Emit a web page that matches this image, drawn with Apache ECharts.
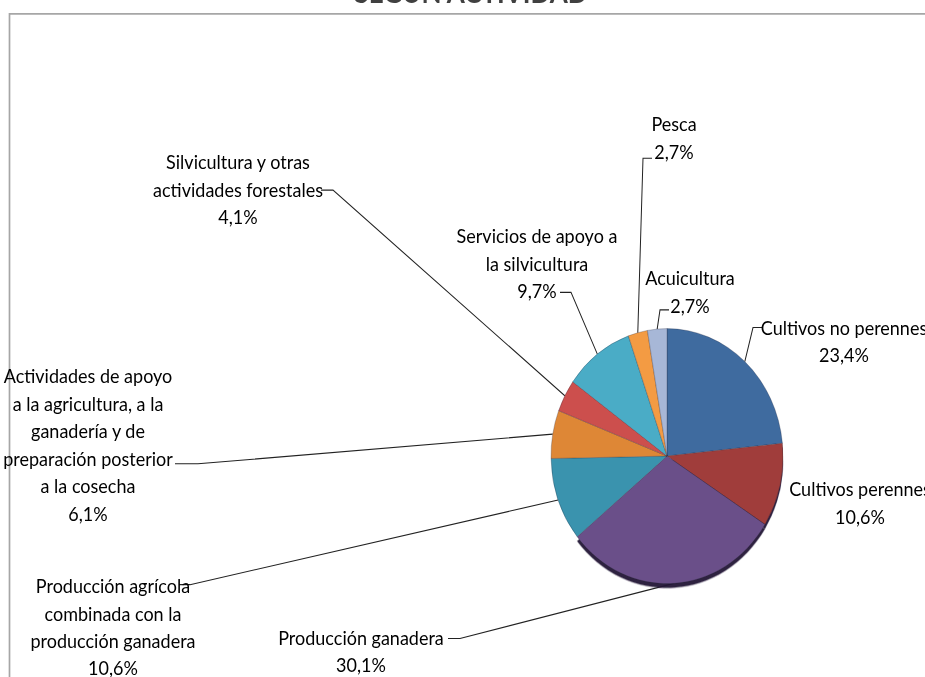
<!DOCTYPE html>
<html>
<head>
<meta charset="utf-8">
<script src="https://cdn.jsdelivr.net/npm/echarts@6/dist/echarts.min.js"></script>
<style>
  html, body { margin: 0; padding: 0; background: #fff; overflow: hidden; }
  #wrap { width: 925px; height: 677px; overflow: hidden; position: relative; background: #fff; }
  #chart { width: 925px; height: 616px; transform: scaleY(1.099); transform-origin: 0 0; }
</style>
</head>
<body>
<div id="wrap"><div id="chart"></div></div>
<script>
// ---------------- data ----------------
const categories = [
  "Cultivos no perennes",
  "Cultivos perennes",
  "Producción ganadera",
  "Producción agrícola combinada con la producción ganadera",
  "Actividades de apoyo a la agricultura, a la ganadería y de preparación posterior a la cosecha",
  "Silvicultura y otras actividades forestales",
  "Servicios de apoyo a la silvicultura",
  "Pesca",
  "Acuicultura"
];
const values = [23.4, 10.6, 30.1, 10.6, 6.1, 4.1, 9.7, 2.7, 2.7];
const labelNames = [
  "Cultivos no perennes",
  "Cultivos perennes",
  "Producción ganadera",
  "Producción agrícola\ncombinada con la\nproducción ganadera",
  "Actividades de apoyo\na la agricultura, a la\nganadería y de\npreparación posterior\na la cosecha",
  "Silvicultura y otras\nactividades forestales",
  "Servicios de apoyo a\nla silvicultura",
  "Pesca",
  "Acuicultura"
];
const titleText = "SEGÚN ACTIVIDAD";

// ---------------- styles / layout ----------------
const colors = ["#3F6B9F", "#A03E3B", "#6B5089", "#3A93AE", "#DE8736", "#CC4F4D", "#4AACC6", "#F39B43", "#A7B7D7"];
// label block centres (chart coordinates, before the vertical stretch)
const labelAnchors = [[844, 310], [860, 457], [361, 592], [113, 570], [88, 404], [238, 172], [537, 239], [674, 125], [690, 265]];
// leader line elbows: [bend point, end point]
const leaderBends = [
  [[753, 298], [762, 298]],
  null,
  [[460, 581], [448, 581]],
  [[190, 532], [179, 532]],
  [[198, 422], [175, 422]],
  [[333, 173], [321, 173]],
  [[571, 266], [560, 266]],
  [[643, 144], [652, 144]],
  [[660, 282], [669, 282]]
];
const shadowed = [false, true, true, false, false, false, false, false, false];

function fmt(v) { return v.toFixed(1).replace('.', ',') + '%'; }

const chart = echarts.init(document.getElementById('chart'), null, { renderer: 'svg' });

const seriesData = values.map(function (v, i) {
  const item = {
    name: categories[i],
    value: v,
    itemStyle: { color: colors[i] }
  };
  if (shadowed[i]) {
    item.itemStyle.shadowColor = 'rgba(35,22,55,0.95)';
    item.itemStyle.shadowOffsetY = 4;
    item.itemStyle.shadowBlur = 1;
  }
  if (!leaderBends[i]) item.labelLine = { show: false };
  return item;
});

chart.setOption({
  backgroundColor: '#ffffff',
  animation: false,
  graphic: [
    {
      type: 'rect', silent: true, z: -10,
      shape: { x: 9.5, y: 12.6, width: 1400, height: 1400 },
      style: { fill: '#ffffff', stroke: '#a6a6a6', lineWidth: 1.7 }
    },
    {
      type: 'text', silent: true,
      x: 471, y: -7.5,
      style: {
        text: titleText, align: 'center', verticalAlign: 'middle',
        font: 'bold 26px Lato, sans-serif', fill: '#404040'
      }
    }
  ],
  series: [{
    type: 'pie',
    center: [667, 415],
    radius: 116,
    startAngle: 90,
    clockwise: true,
    avoidLabelOverlap: false,
    itemStyle: { borderColor: 'rgba(30,30,50,0.35)', borderWidth: 0.7 },
    label: {
      show: true,
      position: 'outside',
      formatter: function (p) { return labelNames[p.dataIndex] + '\n' + fmt(p.value); },
      fontFamily: 'Lato, sans-serif',
      fontSize: 18,
      lineHeight: 25,
      color: '#000000',
      align: 'center'
    },
    labelLine: {
      show: true,
      length: 10,
      length2: 10,
      lineStyle: { color: '#222222', width: 1 }
    },
    labelLayout: function (params) {
      const i = params.dataIndex;
      const a = labelAnchors[i];
      const out = { x: a[0], y: a[1], align: 'center', verticalAlign: 'middle' };
      const b = leaderBends[i];
      const pts = params.labelLinePoints;
      if (b && pts && pts.length) {
        out.labelLinePoints = [pts[0], b[0], b[1]];
      }
      return out;
    },
    data: seriesData
  }]
});
</script>
</body>
</html>
